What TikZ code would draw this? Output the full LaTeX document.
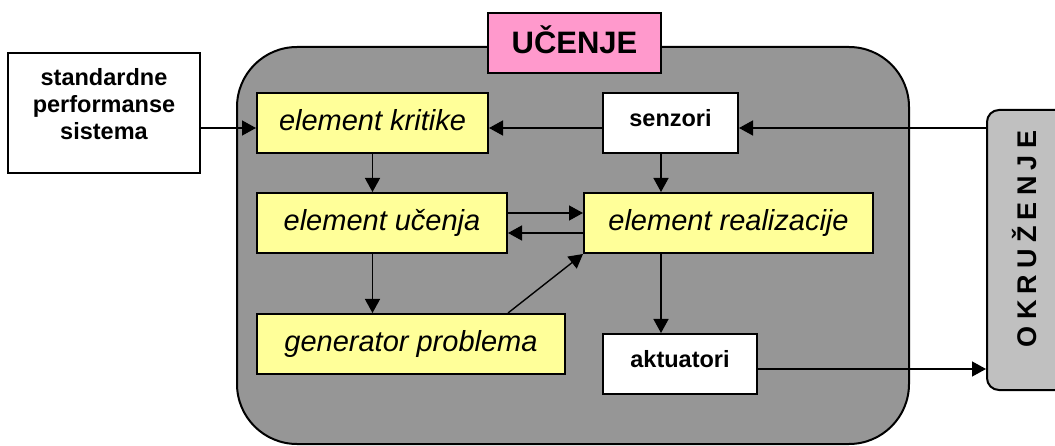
\documentclass[tikz,border=0pt]{standalone}
\usepackage{fontspec}
\setmainfont{Liberation Sans}
\usetikzlibrary{arrows.meta,calc}
\definecolor{biggray}{HTML}{969696}
\definecolor{pinkc}{HTML}{FF99CC}
\definecolor{yell}{HTML}{FFFF99}
\definecolor{envgray}{HTML}{C0C0C0}
\begin{document}
\begin{tikzpicture}[x=1pt,y=-1pt,
  box/.style={draw=black, line width=2pt, inner sep=0pt},
  ybox/.style={box, fill=yell, minimum height=60pt, font=\fontsize{29}{34}\selectfont\itshape, text height=20pt, text depth=4pt},
  wbox/.style={box, fill=white, minimum height=60pt, font=\fontsize{23.5}{27}\selectfont\bfseries, text height=14pt, text depth=7pt},
  arr/.style={-{Triangle[length=14pt,width=15pt]}, line width=1.4pt}]
\useasboundingbox (0,0) rectangle (1055,446);
\clip (0,0) rectangle (1055,446);
% container
\node[draw=black, fill=biggray, line width=2pt, rounded corners=60pt, minimum width=672pt, minimum height=397pt, inner sep=0pt] (learn) at (573,245.5) {};
\node[box, fill=pinkc, minimum width=173pt, minimum height=60pt, font=\fontsize{31}{36}\selectfont\bfseries, text height=22pt, text depth=0pt] (ucenje) at (574.5,43) {UČENJE};
% environment
\node[box, fill=envgray, rounded corners=12pt, minimum width=88pt, minimum height=280pt] (okr) at (1031,250) {};
\node[rotate=90, inner sep=0pt, font=\fontsize{27}{30}\selectfont\bfseries, text height=19.5pt, text depth=0pt] (okrt) at (1027,239) {O\hspace{6.2pt}K\hspace{6.2pt}R\hspace{6.2pt}U\hspace{6.2pt}Ž\hspace{6.2pt}E\hspace{6.2pt}N\hspace{6.2pt}J\hspace{6.2pt}E};
% standard box
\node[box, fill=white, minimum width=192pt, minimum height=120pt] (std) at (104,113) {};
\node[align=center, inner sep=0pt, font=\fontsize{23.5}{27}\selectfont\bfseries] (stdt) at ([yshift=8.5pt]std.center) {standardne\\performanse\\sistema};
% inner boxes
\node[ybox, minimum width=231pt] (krit) at (372.5,123) {element kritike};
\node[wbox, minimum width=135pt] (senz) at (670.5,123) {senzori};
\node[ybox, minimum width=250pt] (ucen) at (382,223) {element učenja};
\node[ybox, minimum width=289pt] (real) at (728.5,223) {element realizacije};
\node[ybox, minimum width=308pt] (gen) at (411,344) {generator problema};
\node[wbox, minimum width=154pt] (akt) at (680,364) {aktuatori};
% connectors
\coordinate (k1) at ([yshift=-5pt]krit.west);
\coordinate (k2) at ([yshift=-5pt]krit.east);
\coordinate (s1) at ([yshift=-5pt]senz.west);
\coordinate (s2) at ([yshift=-5pt]senz.east);
\coordinate (s3) at ([xshift=-9.5pt]senz.south);
\coordinate (a1) at ([yshift=-5pt]akt.east);
\draw[arr] (std.east |- k1) -- (k1);
\draw[arr] (s1) -- (k2);
\draw[arr] (okr.west |- s2) -- (s2);
\draw[arr] (krit.south) -- (krit.south |- ucen.north);
\draw[arr] (s3) -- (s3 |- real.north);
\draw[arr] ([yshift=10pt]ucen.east) -- ([yshift=10pt]real.west);
\draw[arr] ([yshift=-10pt]real.west) -- ([yshift=-10pt]ucen.east);
\draw[arr] (krit.south |- ucen.south) -- (krit.south |- gen.north);
\draw[arr] ([xshift=97pt]gen.north) -- (real.south west);
\draw[arr] (s3 |- real.south) -- (s3 |- akt.north);
\draw[arr] (a1) -- (a1 -| okr.west);
\end{tikzpicture}
\end{document}
